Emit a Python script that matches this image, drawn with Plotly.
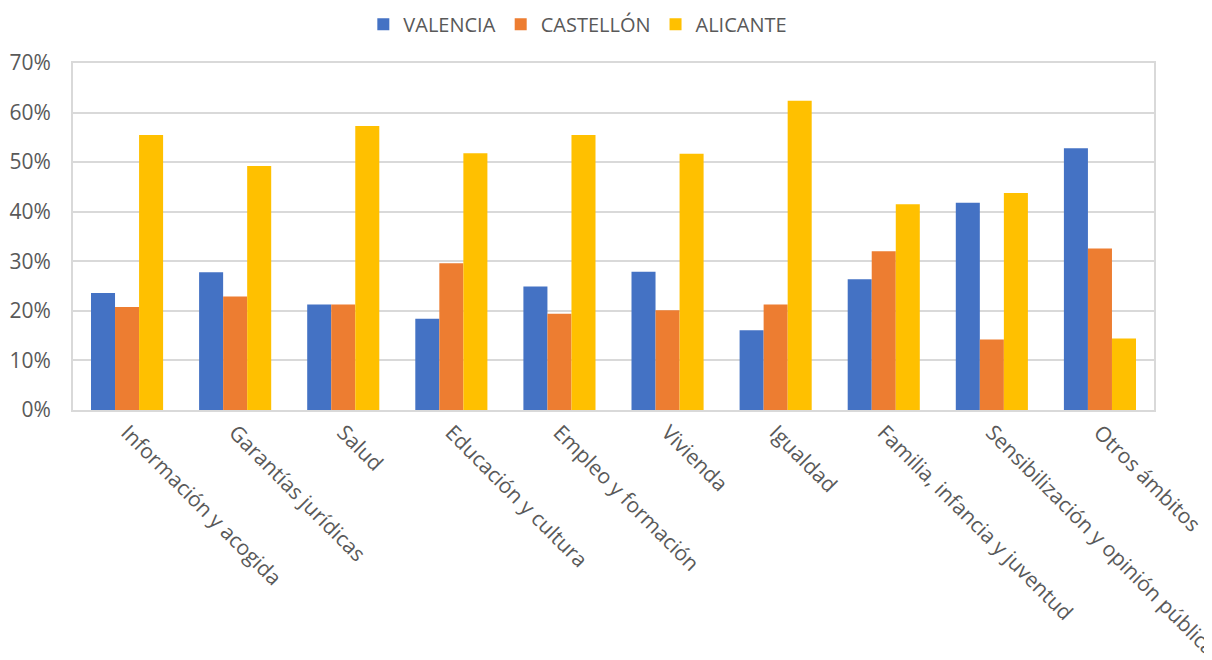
import plotly.graph_objects as go

categories = ["Información y acogida", "Garantías jurídicas", "Salud", "Educación y cultura",
              "Empleo y formación", "Vivienda", "Igualdad", "Familia, infancia y juventud",
              "Sensibilización y opinión pública", "Otros ámbitos"]
valencia = [0.236, 0.278, 0.213, 0.184, 0.249, 0.279, 0.161, 0.264, 0.418, 0.528]
castellon = [0.208, 0.229, 0.213, 0.296, 0.194, 0.201, 0.213, 0.320, 0.142, 0.326]
alicante = [0.555, 0.492, 0.573, 0.518, 0.555, 0.517, 0.624, 0.415, 0.438, 0.144]

series = [("VALENCIA", valencia, "#4472C4"),
          ("CASTELLÓN", castellon, "#ED7D31"),
          ("ALICANTE", alicante, "#FFC000")]

font_family = "Open Sans, Noto Sans, sans-serif"
fs = 21
fig = go.Figure()
for name, vals, col in series:
    fig.add_trace(go.Bar(x=categories, y=vals, name=name, marker_color=col,
                         marker_line_width=0))

fig.update_layout(
    width=1212, height=660,
    margin=dict(l=65, r=66, t=55, b=258, autoexpand=False),
    plot_bgcolor="white", paper_bgcolor="white",
    barmode="group", bargap=0.333, bargroupgap=0,
    font=dict(family=font_family, size=fs, color="#595959"),
    legend=dict(orientation="h", x=0.467, xanchor="center", y=1.112, yanchor="middle",
                font=dict(size=fs - 1, color="#595959"), itemwidth=30, traceorder="normal"),
    showlegend=True,
)
fig.update_xaxes(tickangle=45, showline=True, linecolor="#D9D9D9", linewidth=2, mirror=True,
                 ticks="", automargin=False, tickfont=dict(size=fs, color="#595959"))
fig.update_yaxes(range=[0, 0.70], dtick=0.1, tickformat=".0%", showgrid=True,
                 gridcolor="#D9D9D9", gridwidth=2, showline=True, linecolor="#D9D9D9",
                 linewidth=2, mirror=True, zeroline=False, ticks="", ticklabelstandoff=16,
                 automargin=False, tickfont=dict(size=fs, color="#595959"))

fig.write_html("out.html")
